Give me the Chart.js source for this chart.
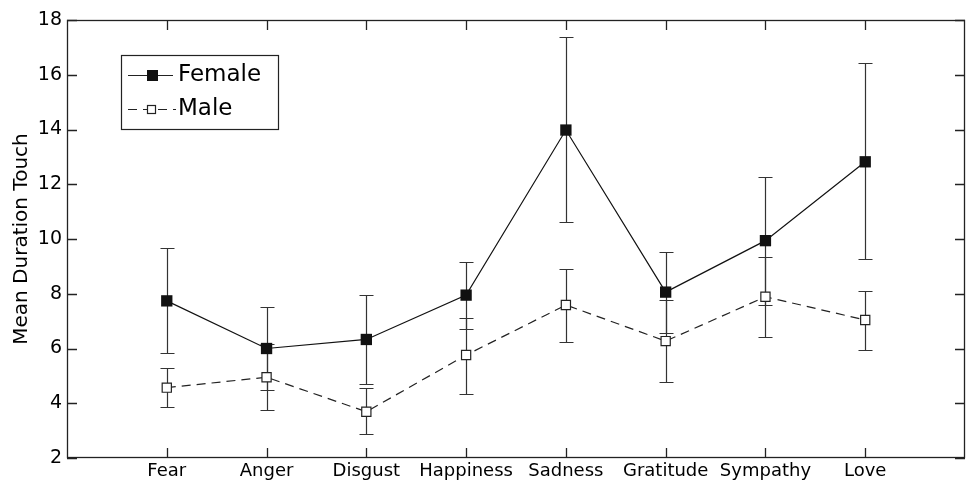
<!DOCTYPE html>
<html lang="en">
<head>
<meta charset="UTF-8">
<title>Mean Duration Touch</title>
<script src="https://cdn.jsdelivr.net/npm/chart.js"></script>
<style>
  html, body { margin: 0; padding: 0; background: #fff; }
  #wrap { width: 966px; height: 486px; }
</style>
</head>
<body>
<div id="wrap"><canvas id="grafico" width="966" height="486"></canvas></div>
<script>
// data
const categorias = ['Fear', 'Anger', 'Disgust', 'Happiness', 'Sadness', 'Gratitude', 'Sympathy', 'Love'];

const femaleMedia = [7.74, 6.00, 6.33, 7.95, 13.98, 8.06, 9.94, 12.82];
const femaleSup   = [9.66, 7.53, 7.94, 9.17, 17.38, 9.54, 12.28, 16.44];
const femaleInf   = [5.82, 4.48, 4.72, 6.73, 10.61, 6.57, 7.60, 9.26];

const maleMedia = [4.57, 4.95, 3.69, 5.76, 7.59, 6.27, 7.89, 7.04];
const maleSup   = [5.28, 6.15, 4.55, 7.13, 8.90, 7.78, 9.36, 8.11];
const maleInf   = [3.87, 3.75, 2.88, 4.34, 6.25, 4.76, 6.42, 5.95];

const yTicks = [2, 4, 6, 8, 10, 12, 14, 16, 18];

const FONTE = 'DejaVu Sans';

function pontos(valores) {
  return valores.map(function (v, i) { return { x: i + 1, y: v }; });
}

// error bars, drawn under the markers
const barrasErro = {
  id: 'barrasErro',
  beforeDatasetsDraw(chart) {
    const ctx = chart.ctx;
    const x = chart.scales.x, y = chart.scales.y;
    const series = [[femaleSup, femaleInf], [maleSup, maleInf]];
    ctx.save();
    ctx.strokeStyle = '#333';
    ctx.lineWidth = 1.2;
    series.forEach(function (s) {
      s[0].forEach(function (sup, i) {
        const px = Math.round(x.getPixelForValue(i + 1)) + 0.5;
        const pTop = Math.round(y.getPixelForValue(sup)) + 0.5;
        const pBot = Math.round(y.getPixelForValue(s[1][i])) + 0.5;
        ctx.beginPath();
        ctx.moveTo(px, pTop); ctx.lineTo(px, pBot);
        ctx.moveTo(px - 7, pTop); ctx.lineTo(px + 7, pTop);
        ctx.moveTo(px - 7, pBot); ctx.lineTo(px + 7, pBot);
        ctx.stroke();
      });
    });
    ctx.restore();
  }
};

// box around the plot with inward ticks, plus legend
const moldura = {
  id: 'moldura',
  afterDraw(chart) {
    const ctx = chart.ctx;
    const a = chart.chartArea;
    const x = chart.scales.x, y = chart.scales.y;
    ctx.save();
    ctx.strokeStyle = '#222';
    ctx.lineWidth = 1.3;
    ctx.strokeRect(a.left + 0.5, a.top + 0.5, a.right - a.left - 1, a.bottom - a.top - 1);

    ctx.beginPath();
    yTicks.forEach(function (t) {
      const py = Math.round(y.getPixelForValue(t)) + 0.5;
      ctx.moveTo(a.left, py); ctx.lineTo(a.left + 10, py);
      ctx.moveTo(a.right, py); ctx.lineTo(a.right - 10, py);
    });
    categorias.forEach(function (c, i) {
      const px = Math.round(x.getPixelForValue(i + 1)) + 0.5;
      ctx.moveTo(px, a.bottom); ctx.lineTo(px, a.bottom - 10);
      ctx.moveTo(px, a.top); ctx.lineTo(px, a.top + 10);
    });
    ctx.stroke();

    // legend
    const lx = 121, ly = 55, lw = 157, lh = 74;
    ctx.fillStyle = '#fff';
    ctx.fillRect(lx, ly, lw, lh);
    ctx.lineWidth = 1.2;
    ctx.strokeStyle = '#222';
    ctx.strokeRect(lx + 0.5, ly + 0.5, lw, lh);

    ctx.lineWidth = 1.2;
    ctx.beginPath();
    ctx.moveTo(128, 75.5); ctx.lineTo(173, 75.5);
    ctx.stroke();
    ctx.fillStyle = '#111';
    ctx.fillRect(147, 70, 11, 11);

    ctx.setLineDash([9, 6]);
    ctx.beginPath();
    ctx.moveTo(128, 109.5); ctx.lineTo(176, 109.5);
    ctx.stroke();
    ctx.setLineDash([]);
    ctx.fillStyle = '#fff';
    ctx.fillRect(147, 105, 9, 9);
    ctx.strokeRect(147.5, 105.5, 8, 8);

    ctx.fillStyle = '#000';
    ctx.font = '23px "' + FONTE + '"';
    ctx.textBaseline = 'middle';
    ctx.textAlign = 'left';
    ctx.fillText('Female', 178, 75);
    ctx.fillText('Male', 178, 109);
    ctx.restore();
  }
};

const ctx = document.getElementById('grafico');
new Chart(ctx, {
  type: 'line',
  data: {
    datasets: [{
      label: 'Female',
      data: pontos(femaleMedia),
      borderColor: '#111',
      borderWidth: 1.2,
      pointStyle: 'rect',
      pointRadius: 8,
      pointBackgroundColor: '#111',
      pointBorderColor: '#111',
      pointBorderWidth: 0,
      tension: 0
    }, {
      label: 'Male',
      data: pontos(maleMedia),
      borderColor: '#222',
      borderWidth: 1.2,
      borderDash: [9, 6],
      pointStyle: 'rect',
      pointRadius: 6.5,
      pointBackgroundColor: '#fff',
      pointBorderColor: '#222',
      pointBorderWidth: 1.2,
      tension: 0
    }]
  },
  options: {
    responsive: false,
    animation: false,
    events: [],
    layout: { autoPadding: false, padding: { top: 20, right: 1, left: 0, bottom: 0 } },
    plugins: {
      legend: { display: false },
      tooltip: { enabled: false }
    },
    scales: {
      x: {
        type: 'linear',
        min: 0,
        max: 9,
        afterFit: function (s) { s.height = 28; s.paddingLeft = 0; s.paddingRight = 0; },
        grid: { display: false, drawTicks: false },
        border: { display: false },
        ticks: {
          stepSize: 1,
          autoSkip: false,
          maxRotation: 0,
          padding: 3,
          color: '#000',
          font: { family: FONTE, size: 18 },
          callback: function (v) { return categorias[v - 1] || ''; }
        }
      },
      y: {
        min: 2,
        max: 18,
        afterFit: function (s) { s.width = 67; },
        afterBuildTicks: function (s) { s.ticks = yTicks.map(function (v) { return { value: v }; }); },
        grid: { display: false, drawTicks: false },
        border: { display: false },
        title: {
          display: true,
          text: 'Mean Duration Touch',
          color: '#000',
          font: { family: FONTE, size: 20 },
          padding: { top: 10, bottom: 0 }
        },
        ticks: {
          padding: 5,
          color: '#000',
          font: { family: FONTE, size: 19 }
        }
      }
    }
  },
  plugins: [barrasErro, moldura]
});
</script>
</body>
</html>
